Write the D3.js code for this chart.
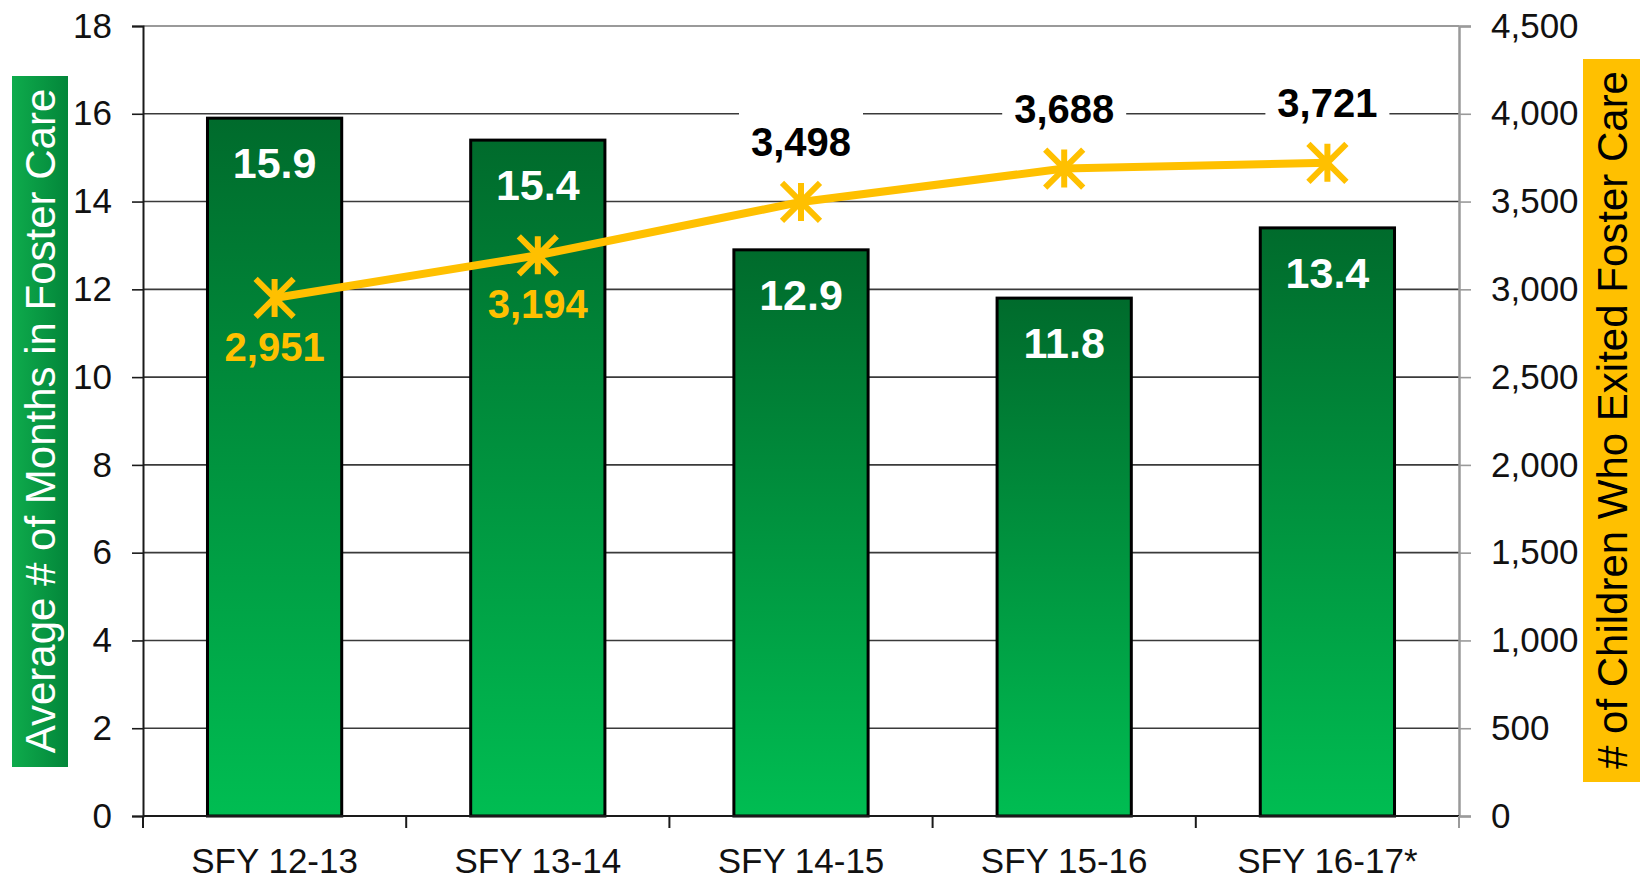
<!DOCTYPE html>
<html>
<head>
<meta charset="utf-8">
<script src="https://cdn.jsdelivr.net/npm/d3@7"></script>
<style>
  body { margin: 0; background: #fff; }
  text { font-family: "Liberation Sans", Arial, sans-serif; }
</style>
</head>
<body>
<script>
// chart data
var categories = ["SFY 12-13", "SFY 13-14", "SFY 14-15", "SFY 15-16", "SFY 16-17*"];
var avgMonths = [15.9, 15.4, 12.9, 11.8, 13.4];
var childrenExited = [2951, 3194, 3498, 3688, 3721];
var leftTicks = [0, 2, 4, 6, 8, 10, 12, 14, 16, 18];
var rightTicks = [0, 500, 1000, 1500, 2000, 2500, 3000, 3500, 4000, 4500];
var labelBelow = [true, true, false, false, false]; // where the line labels sit

var W = 1640, H = 880;
// plot area (note: "top" is taken by window.top, so use other names)
var plotL = 143, plotR = 1459, plotT = 26, plotB = 816;

var svg = d3.select("body").append("svg")
    .attr("width", W)
    .attr("height", H);

var defs = svg.append("defs");
var barGrad = defs.append("linearGradient")
    .attr("id", "barGrad").attr("x1", 0).attr("y1", 0).attr("x2", 0).attr("y2", 1);
barGrad.append("stop").attr("offset", "0%").attr("stop-color", "#006b2c");
barGrad.append("stop").attr("offset", "100%").attr("stop-color", "#00bd52");

var boxGrad = defs.append("linearGradient")
    .attr("id", "boxGrad").attr("x1", 0).attr("y1", 0).attr("x2", 1).attr("y2", 0);
boxGrad.append("stop").attr("offset", "0%").attr("stop-color", "#0eab4c");
boxGrad.append("stop").attr("offset", "100%").attr("stop-color", "#03863a");

// scales
var x = d3.scaleBand().domain(categories).range([plotL, plotR]).padding(0);
var y = d3.scaleLinear().domain([0, 18]).range([plotB, plotT]);
var y2 = d3.scaleLinear().domain([0, 4500]).range([plotB, plotT]);
var barW = x.bandwidth() * 0.51;
var cx = function(d) { return x(d) + x.bandwidth() / 2; };

// gridlines
svg.append("g").selectAll("line.grid")
    .data(leftTicks.slice(1, -1))
    .enter().append("line")
    .attr("x1", plotL).attr("x2", plotR)
    .attr("y1", function(d) { return y(d); })
    .attr("y2", function(d) { return y(d); })
    .attr("stroke", "#3a3a3a")
    .attr("stroke-width", 1.6);

// top border of plot
svg.append("line")
    .attr("x1", plotL).attr("x2", plotR)
    .attr("y1", plotT).attr("y2", plotT)
    .attr("stroke", "#9a9a9a").attr("stroke-width", 2);

// left axis
var leftAxis = svg.append("g")
    .attr("transform", "translate(" + plotL + ",0)")
    .call(d3.axisLeft(y).tickValues(leftTicks).tickSize(11).tickPadding(20));
leftAxis.select(".domain").attr("stroke", "#1a1a1a").attr("stroke-width", 2);
leftAxis.selectAll(".tick line").attr("stroke", "#1a1a1a").attr("stroke-width", 1.6);
leftAxis.selectAll("text")
    .attr("font-size", 35).attr("fill", "#111")
    .style("font-family", "Liberation Sans, Arial, sans-serif");

// right axis
var rightAxis = svg.append("g")
    .attr("transform", "translate(" + plotR + ",0)")
    .call(d3.axisRight(y2).tickValues(rightTicks).tickSize(12).tickPadding(20)
        .tickFormat(d3.format(",")));
rightAxis.select(".domain").attr("stroke", "#9a9a9a").attr("stroke-width", 2.5);
rightAxis.selectAll(".tick line").attr("stroke", "#9a9a9a").attr("stroke-width", 1.6);
rightAxis.selectAll("text")
    .attr("font-size", 35).attr("fill", "#111")
    .style("font-family", "Liberation Sans, Arial, sans-serif");

// bars
svg.append("g").selectAll("rect.bar")
    .data(avgMonths)
    .enter().append("rect")
    .attr("class", "bar")
    .attr("x", function(d, i) { return cx(categories[i]) - barW / 2; })
    .attr("y", function(d) { return y(d); })
    .attr("width", barW)
    .attr("height", function(d) { return plotB - y(d); })
    .attr("fill", "url(#barGrad)")
    .attr("stroke", "#000")
    .attr("stroke-width", 3);

// x axis
svg.append("line")
    .attr("x1", plotL).attr("x2", plotR)
    .attr("y1", plotB).attr("y2", plotB)
    .attr("stroke", "#1a1a1a").attr("stroke-width", 2);
var bounds = categories.map(function(c) { return x(c); }).concat([plotR]);
svg.append("g").selectAll("line.xtick")
    .data(bounds)
    .enter().append("line")
    .attr("x1", function(d) { return d; }).attr("x2", function(d) { return d; })
    .attr("y1", plotB).attr("y2", plotB + 12)
    .attr("stroke", function(d, i) { return i == bounds.length - 1 ? "#9a9a9a" : "#1a1a1a"; })
    .attr("stroke-width", 2);
svg.append("g").selectAll("text.xlab")
    .data(categories)
    .enter().append("text")
    .attr("x", function(d) { return cx(d); })
    .attr("y", 873)
    .attr("text-anchor", "middle")
    .attr("font-size", 35)
    .attr("fill", "#111")
    .text(function(d) { return d; });

// bar value labels
svg.append("g").selectAll("text.barlab")
    .data(avgMonths)
    .enter().append("text")
    .attr("x", function(d, i) { return cx(categories[i]); })
    .attr("y", function(d) { return y(d) + 60; })
    .attr("text-anchor", "middle")
    .attr("font-size", 43)
    .attr("font-weight", "bold")
    .attr("fill", "#fff")
    .text(function(d) { return d.toFixed(1); });

// line
var line = d3.line()
    .x(function(d, i) { return cx(categories[i]); })
    .y(function(d) { return y2(d); });
svg.append("path")
    .attr("d", line(childrenExited))
    .attr("fill", "none")
    .attr("stroke", "#ffc000")
    .attr("stroke-width", 8)
    .attr("stroke-linejoin", "round");

// asterisk markers
var s = 19;
var markers = svg.append("g").selectAll("g.mark")
    .data(childrenExited)
    .enter().append("g")
    .attr("transform", function(d, i) { return "translate(" + cx(categories[i]) + "," + y2(d) + ")"; });
markers.append("path")
    .attr("d", "M0," + (-s) + "L0," + s +
               "M" + (-s) + "," + (-s) + "L" + s + "," + s +
               "M" + (-s) + "," + s + "L" + s + "," + (-s))
    .attr("stroke", "#ffc000")
    .attr("stroke-width", 6)
    .attr("fill", "none");

// line value labels
var fmt = d3.format(",");
var lineLabs = svg.append("g").selectAll("g.linelab")
    .data(childrenExited)
    .enter().append("g")
    .attr("transform", function(d, i) {
        var dy = labelBelow[i] ? 48 : -61;
        return "translate(" + cx(categories[i]) + "," + (y2(d) + dy) + ")";
    });
lineLabs.filter(function(d, i) { return !labelBelow[i]; })
    .append("rect")
    .attr("x", -62).attr("y", -30)
    .attr("width", 124).attr("height", 60)
    .attr("fill", "#fff");
lineLabs.append("text")
    .attr("text-anchor", "middle")
    .attr("dy", 15)
    .attr("font-size", 40)
    .attr("font-weight", "bold")
    .attr("fill", function(d, i) { return labelBelow[i] ? "#ffc000" : "#000"; })
    .text(function(d) { return fmt(d); });

// axis titles
svg.append("rect")
    .attr("x", 12).attr("y", 76).attr("width", 56).attr("height", 691)
    .attr("fill", "url(#boxGrad)");
svg.append("text")
    .attr("transform", "translate(55,421) rotate(-90)")
    .attr("text-anchor", "middle")
    .attr("font-size", 42)
    .attr("fill", "#fff")
    .text("Average # of Months in Foster Care");

svg.append("rect")
    .attr("x", 1583).attr("y", 59).attr("width", 60).attr("height", 723)
    .attr("fill", "#ffc000");
svg.append("text")
    .attr("transform", "translate(1627,420) rotate(-90)")
    .attr("text-anchor", "middle")
    .attr("font-size", 42)
    .attr("fill", "#000")
    .text("# of Children Who Exited Foster Care");
</script>
</body>
</html>
